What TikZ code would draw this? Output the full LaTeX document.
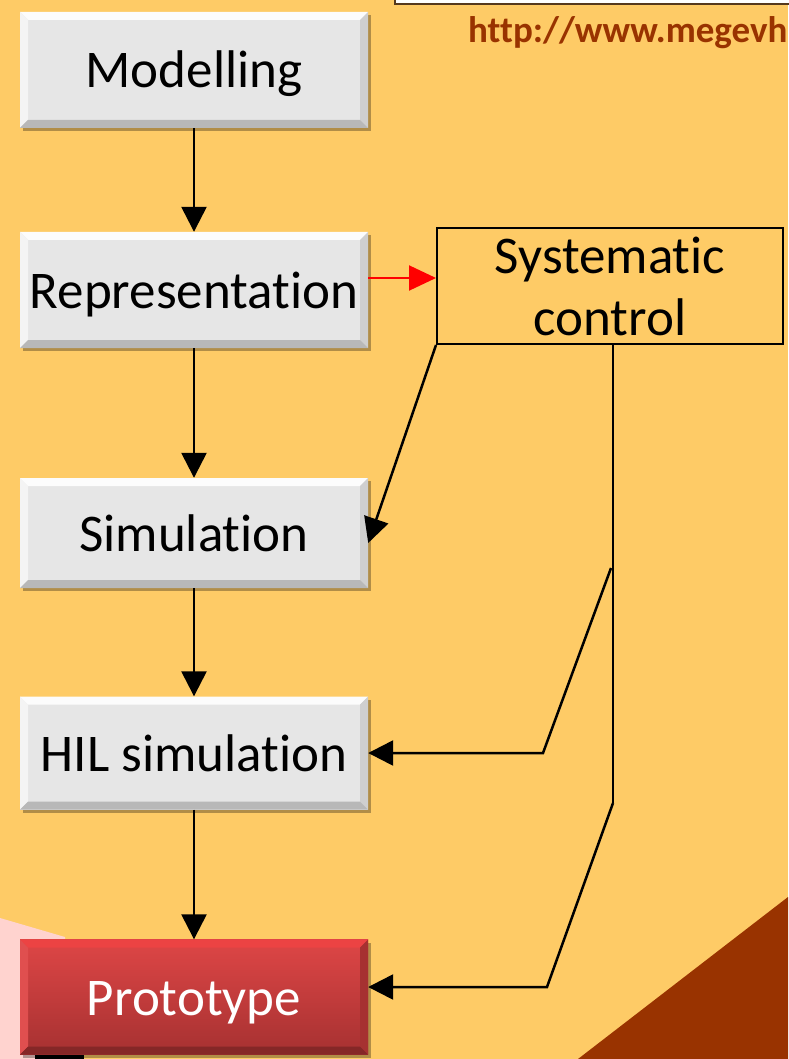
\documentclass[tikz,border=0pt]{standalone}
\usepackage{fontspec}
\setmainfont{Carlito}[Ligatures={NoCommon,NoContextual}]
\usetikzlibrary{arrows.meta,shadows}
\definecolor{bg}{HTML}{FECB66}
\definecolor{brownbg}{HTML}{993300}
\definecolor{linkc}{HTML}{993300}
\definecolor{pinkc}{HTML}{FFD3CF}
\definecolor{boxgray}{HTML}{E6E6E6}
\definecolor{redtop}{HTML}{DE4646}
\definecolor{redbot}{HTML}{A63131}
\tikzset{
  bevel/.style n args={4}{path picture={
    \path (path picture bounding box.north west) coordinate (bNW)
          (path picture bounding box.north east) coordinate (bNE)
          (path picture bounding box.south west) coordinate (bSW)
          (path picture bounding box.south east) coordinate (bSE);
    \fill[#1] (bNW) -- (bNE) -- ([xshift=-8pt,yshift=-8pt]bNE) -- ([xshift=8pt,yshift=-8pt]bNW) -- cycle;
    \fill[#2] (bNW) -- ([xshift=8pt,yshift=-8pt]bNW) -- ([xshift=8pt,yshift=8pt]bSW) -- (bSW) -- cycle;
    \fill[#3] (bNE) -- ([xshift=-8pt,yshift=-8pt]bNE) -- ([xshift=-8pt,yshift=8pt]bSE) -- (bSE) -- cycle;
    \fill[#4] (bSW) -- ([xshift=8pt,yshift=8pt]bSW) -- ([xshift=-8pt,yshift=8pt]bSE) -- (bSE) -- cycle;
  }},
  stagebox/.style={rectangle, inner sep=0pt, minimum width=348pt,
    font=\fontsize{53}{62}\selectfont, text height=47pt, text depth=11pt,
    drop shadow={shadow xshift=2.5pt, shadow yshift=-3pt, opacity=.3, fill=black}},
  graybox/.style={stagebox, fill=boxgray,
    bevel={white!90!boxgray}{white!55!boxgray}{black!10!boxgray}{black!20!boxgray}},
  redbox/.style={stagebox, top color=redtop, bottom color=redbot, text=white,
    bevel={red!35!redtop!90!white}{redtop!95!white}{redbot}{redbot!80!black}},
  ctrlbox/.style={rectangle, draw=black, line width=2pt, inner sep=0pt,
    minimum width=346pt, minimum height=116pt, align=center,
    font=\fontsize{53}{62}\selectfont},
  arr/.style={draw=black, line width=2.5pt, -{Triangle[length=25pt,width=25pt]}},
  redarr/.style={draw=red, line width=2pt, -{Triangle[length=27pt,width=25pt]}},
  plain/.style={draw=black, line width=2.5pt}
}
\begin{document}
\begin{tikzpicture}[x=1pt,y=-1pt]
  % background
  \fill[bg] (0,0) rectangle (788,1059);
  \useasboundingbox (0,0) rectangle (788,1059);
  \fill[brownbg] (578,1059) -- (788,897) -- (788,1059) -- cycle;
  \fill[pinkc] (0,918) -- (65,937) -- (65,1059) -- (0,1059) -- cycle;
  \fill[black] (35,1054) rectangle (84,1059);
  % top white box and link
  \filldraw[fill=white, draw=black!55!brown, line width=1.5pt] (395,-10) rectangle (800,4);
  \node[anchor=base west, inner sep=0pt, text=linkc, font=\fontsize{37}{42}\selectfont\bfseries] (link) at (468,43) {http://www.megevh};

  % stage boxes
  \node[graybox, minimum height=116pt] (mod) at (194,70) {Modelling};
  \node[graybox, minimum height=116pt] (rep) at (194,290) {Representation};
  \node[graybox, minimum height=110pt] (sim) at (194,533) {Simulation};
  \node[graybox, minimum height=113pt] (hil) at (194,753) {HIL simulation};
  \node[redbox, minimum height=115pt] (pro) at (194,997) {Prototype};
  \node[ctrlbox] (ctl) at (610,286) {Systematic\\control};

  % vertical flow
  \draw[arr] (mod) -- (rep);
  \draw[arr] (rep) -- (sim);
  \draw[arr] (sim) -- (hil);
  \draw[arr] (hil) -- (pro);

  % red arrow
  \draw[redarr] ([yshift=12pt]rep.east) -- ([yshift=12pt]rep.east -| ctl.west);

  % control feedback
  \draw[arr] (ctl.south west) -- ([yshift=-10pt]sim.east);
  \coordinate (v0) at (613,344);
  \coordinate (v1) at (613,803);
  \draw[plain] (v0) -- (v1);
  \coordinate (h1) at (611,568);
  \coordinate (h2) at (543,753);
  \draw[arr] (h1) -- (h2) -- (h2 -| hil.east);
  \coordinate (p2) at (547,987);
  \draw[arr] (v1) -- (p2) -- (p2 -| pro.east);
\end{tikzpicture}
\end{document}
